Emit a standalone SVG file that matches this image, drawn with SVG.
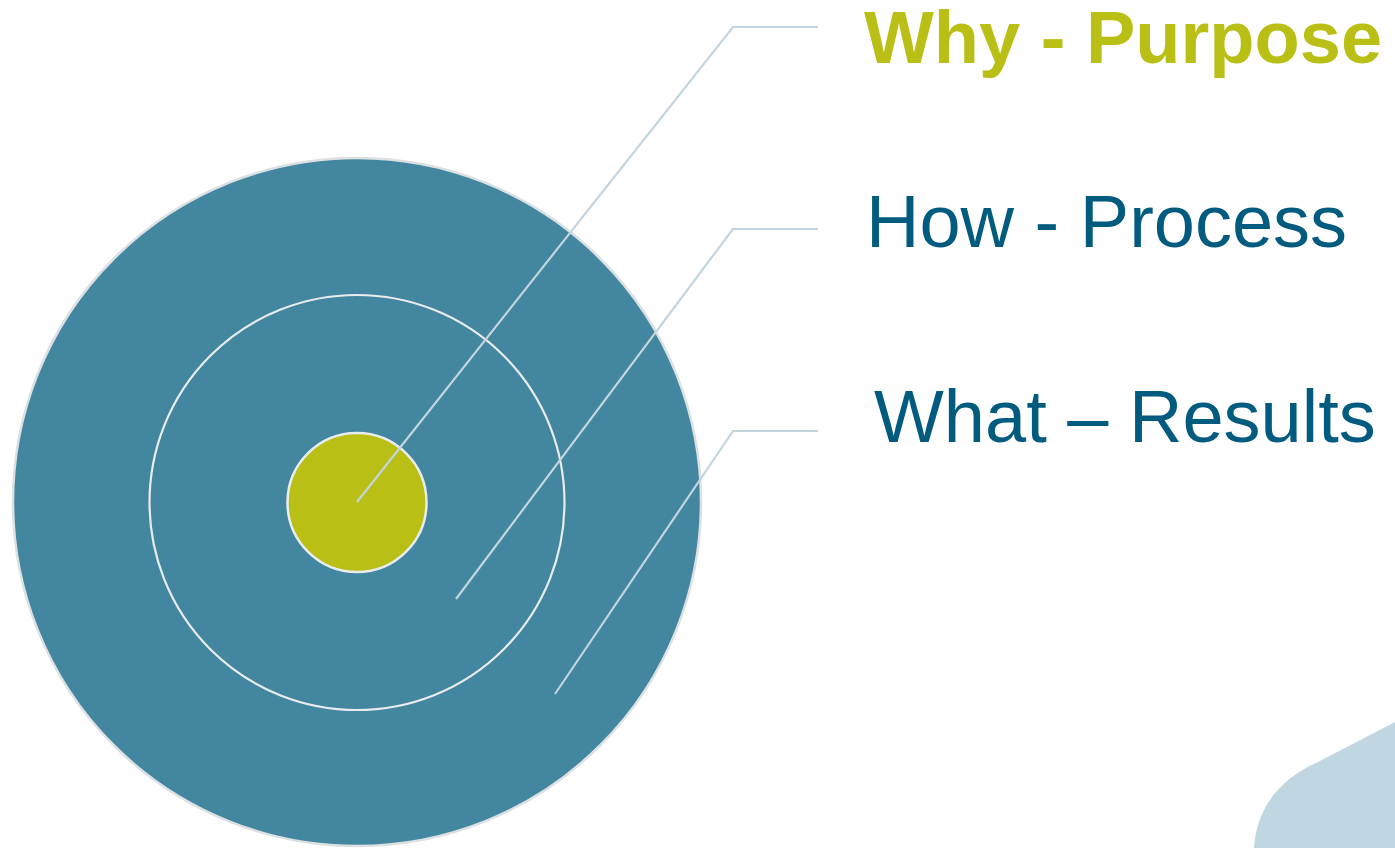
<svg xmlns="http://www.w3.org/2000/svg" width="1395" height="848" viewBox="0 0 1395 848">
<style>
.lead{fill:none;stroke:#C2D4DD;stroke-width:2.2;stroke-linejoin:miter}
.lbl{font-family:"Liberation Sans",Arial,sans-serif;font-size:74px}
</style>
<rect width="1395" height="848" fill="#FFFFFF"/>
<path d="M1254,848 C1257,805 1282,778 1318,762 L1395,722 L1395,848 Z" fill="#C0D6E0"/>
<g id="outer">
<circle cx="357" cy="502" r="344" fill="#43869F" stroke="#DCE0E3" stroke-width="2.5"/>
</g>
<g id="middle">
<circle cx="357" cy="502.5" r="207.5" fill="none" stroke="#E8ECEE" stroke-width="2.2"/>
</g>
<g id="inner">
<circle cx="357" cy="502.5" r="69.5" fill="#B9BF15" stroke="#E8ECEE" stroke-width="2.5"/>
</g>
<g id="connectors">
<polyline class="lead" points="357,502 733,27 818,27"/>
<polyline class="lead" points="456,599 733,229 818,229"/>
<polyline class="lead" points="555,694 733,431 818,431"/>
</g>
<g id="why"><text class="lbl" x="864" y="63" font-weight="bold" fill="#B9BF15">Why - Purpose</text></g>
<g id="how"><text class="lbl" x="866" y="247" fill="#005B7F">How - Process</text></g>
<g id="what"><text class="lbl" x="874" y="442" fill="#005B7F">What – Results</text></g>
</svg>
